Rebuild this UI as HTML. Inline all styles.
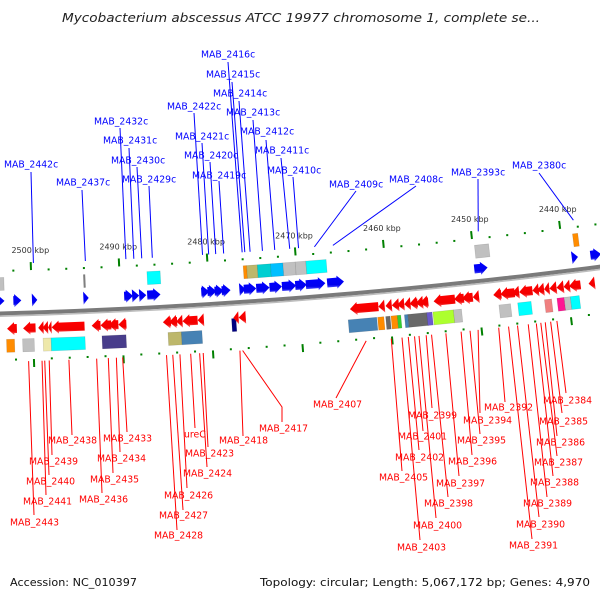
<!DOCTYPE html>
<html><head><meta charset="utf-8"><style>
html,body{margin:0;padding:0;background:#fff;}
svg{display:block;font-family:"DejaVu Sans","Liberation Sans",sans-serif;}
</style></head><body>
<svg id="map" width="600" height="600" viewBox="0 0 600 600" xmlns="http://www.w3.org/2000/svg">
<defs>
<linearGradient id="gb" x1="0" y1="0" x2="0" y2="1"><stop offset="0" stop-color="#0000ff"/><stop offset="0.7" stop-color="#0000ee"/><stop offset="1" stop-color="#6a6aff"/></linearGradient>
<linearGradient id="gr" x1="0" y1="0" x2="0" y2="1"><stop offset="0" stop-color="#ff0000"/><stop offset="0.7" stop-color="#f20000"/><stop offset="1" stop-color="#ff7070"/></linearGradient>
</defs>
<text x="62" y="22" font-size="12" font-style="italic" fill="#222" textLength="478" lengthAdjust="spacingAndGlyphs">Mycobacterium abscessus ATCC 19977 chromosome 1, complete se...</text>
<g id="g-back"></g><g id="g-ticks"></g><g id="g-genes"></g><g id="g-lines"></g><g id="g-labels"></g>
<text x="10" y="586" font-size="11" fill="#111" textLength="127" lengthAdjust="spacingAndGlyphs">Accession: NC_010397</text>
<text x="260" y="586" font-size="11" fill="#111" textLength="330" lengthAdjust="spacingAndGlyphs">Topology: circular; Length: 5,067,172 bp; Genes: 4,970</text>
</svg>
<script>
// ---- data (kbp) ----
const fwdGeneStart=[2503.9,2502.1,2500.0,2494.2,2489.6,2488.7,2487.9,2487.0,2480.9,2480.2,2479.4,2478.6,2476.6,2476.1,2474.7,2473.2,2471.8,2470.3,2469.1,2466.7,2450.1,2439.1,2437.0];
const fwdGeneEnd=[2503.1,2501.2,2499.4,2493.6,2488.6,2487.9,2487.1,2485.5,2480.0,2479.2,2478.4,2477.6,2475.9,2474.7,2473.2,2471.8,2470.2,2469.0,2466.9,2464.8,2448.6,2438.4,2435.8];
const revGeneStart=[2502.9,2501.1,2499.4,2498.9,2498.3,2497.9,2493.4,2492.4,2491.5,2490.4,2485.4,2484.7,2483.9,2483.2,2481.5,2477.5,2476.9,2464.4,2461.2,2460.4,2459.7,2459.1,2458.3,2457.7,2457.0,2456.5,2455.0,2452.7,2451.8,2450.6,2448.3,2447.5,2446.2,2445.4,2443.9,2443.4,2442.6,2442.0,2441.2,2440.4,2439.8,2437.6];
const revGeneEnd=[2501.8,2499.7,2498.8,2498.3,2497.9,2494.2,2492.4,2491.2,2490.4,2489.5,2484.5,2483.8,2483.2,2481.5,2480.8,2476.9,2476.1,2461.2,2460.5,2459.7,2458.9,2458.3,2457.6,2456.8,2456.2,2455.6,2452.6,2451.6,2450.6,2449.9,2447.4,2445.9,2445.4,2443.9,2443.2,2442.6,2442.0,2441.2,2440.4,2439.7,2438.5,2436.9];
const fwdCogStart=[2503.9,2494.1,2486.9,2476.0,2475.6,2474.4,2472.9,2471.5,2470.1,2468.9,2449.8,2438.7];
const fwdCogEnd=[2503.1,2493.9,2485.4,2475.6,2474.4,2472.9,2471.5,2470.1,2468.9,2466.6,2448.2,2438.1];
const fwdCogColor=["#c0c0c0","#808080","#00ffff","#ff8c00","#bdb76b","#00ced1","#00bfff","#c0c0c0","#c0c0c0","#00ffff","#c0c0c0","#ff8c00"];
const revCogStart=[2503.0,2501.2,2498.9,2498.0,2492.3,2484.9,2483.4,2464.7,2461.4,2460.5,2459.9,2459.2,2458.4,2458.0,2455.9,2455.2,2452.9,2447.8,2445.7,2442.7,2441.3,2440.5,2439.8];
const revCogEnd=[2502.1,2499.9,2498.0,2494.2,2489.6,2483.4,2481.1,2461.5,2460.7,2460.0,2459.2,2458.8,2458.0,2455.8,2455.3,2452.9,2452.0,2446.5,2444.2,2441.9,2440.5,2439.8,2438.8];
const revCogColor=["#ff8c00","#c0c0c0","#eee8aa","#00ffff","#483d8b","#bdb76b","#4682b4","#4682b4","#ff8c00","#696969","#ff8c00","#32cd32","#4682b4","#696969","#6a5acd","#adff2f","#c0c0c0","#c0c0c0","#00ffff","#f08080","#ff1493","#c0c0c0","#00ffff"];
const navyGene=[2477.7,2477.2];
const tickStart=2504, tickEnd=2434;
const majorTicks=[2500,2490,2480,2470,2460,2450,2440];
const tickLabels=["2500 kbp","2490 kbp","2480 kbp","2470 kbp","2460 kbp","2450 kbp","2440 kbp"];
const blueNames=["MAB_2442c","MAB_2437c","MAB_2432c","MAB_2431c","MAB_2430c","MAB_2429c","MAB_2422c","MAB_2421c","MAB_2420c","MAB_2419c","MAB_2416c","MAB_2415c","MAB_2414c","MAB_2413c","MAB_2412c","MAB_2411c","MAB_2410c","MAB_2409c","MAB_2408c","MAB_2393c","MAB_2380c"];
const bluePos=[2499.7,2493.8,2489.2,2488.3,2487.4,2486.2,2480.5,2479.8,2479.0,2478.1,2476.0,2475.7,2475.1,2473.7,2472.3,2470.6,2469.6,2467.8,2465.7,2449.2,2438.4];
const redNames=["MAB_2443","MAB_2441","MAB_2440","MAB_2439","MAB_2438","MAB_2436","MAB_2435","MAB_2434","MAB_2433","MAB_2428","MAB_2427","MAB_2426","ureC","MAB_2424","MAB_2423","MAB_2418","MAB_2417","MAB_2407","MAB_2405","MAB_2403","MAB_2402","MAB_2401","MAB_2400","MAB_2399","MAB_2398","MAB_2397","MAB_2396","MAB_2395","MAB_2394","MAB_2392","MAB_2391","MAB_2390","MAB_2389","MAB_2388","MAB_2387","MAB_2386","MAB_2385","MAB_2384"];
const redPos=[2500.6,2499.1,2498.8,2498.3,2496.1,2493.0,2491.7,2490.8,2490.1,2485.2,2484.5,2483.7,2482.5,2481.5,2481.1,2477.0,2476.7,2462.9,2460.1,2458.9,2458.2,2457.5,2457.0,2456.2,2455.6,2454.0,2452.3,2451.3,2450.4,2448.1,2447.0,2446.0,2444.8,2443.9,2443.4,2442.9,2442.3,2441.6];
// ---- label layout (pixels) ----
const blueLay=[[4,164,31,172],[56,182,82,190],[94,121,120,128],[103,140,129,148],[111,160,137,167],[122,179,149,186],[167,106,194,113],[175,136,202,143],[184,155,210,162],[192,175,219,181],[201,54,228,62],[206,74,232,82],[213,93,239,101],[226,112,253,120],[240,131,266,140],[255,150,281,158],[267,170,293,177],[329,184,356,191],[389,179,416,186],[451,172,478,179],[512,165,539,173]];
const redLay=[[10,522,34,515],[23,501,46,495],[26,481,49,475],[29,461,52,455],[48,440,72,435],[79,499,102,493],[90,479,113,473],[97,458,120,452],[103,438,127,432],[154,535,177,530],[159,515,183,510],[164,495,187,488],[184,434,195,428],[183,473,207,467],[185,453,208,447],[219,440,243,436],[259,428,282,422],[313,404,336,398],[379,477,402,471],[397,547,420,540],[395,457,419,450],[398,436,423,431],[413,525,436,518],[408,415,432,408],[424,503,448,497],[436,483,459,476],[448,461,472,455],[457,440,480,434],[463,420,480,413],[484,407,505,402],[509,545,532,539],[516,524,539,517],[523,503,547,497],[530,482,553,476],[534,462,557,456],[536,442,557,436],[539,421,562,413],[543,400,566,393]];

const NS="http://www.w3.org/2000/svg";
const CX=-166, CY=-5683.7, R=6000;
function xs(p){return 32.4+(2500-p)*8.883;}
function P(p,r){const th=Math.asin((xs(p)-CX)/R);const rr=R-r;return [CX+rr*Math.sin(th),CY+rr*Math.cos(th)];}
function mk(tag,parent,attrs){const e=document.createElementNS(NS,tag);for(const k in attrs)e.setAttribute(k,attrs[k]);document.getElementById(parent).appendChild(e);return e;}
function pts(a){return a.map(q=>q[0].toFixed(2)+","+q[1].toFixed(2)).join(" ");}
function arcPath(p1,p2,r){let d="";for(let i=0;i<=40;i++){const p=p1+(p2-p1)*i/40;const q=P(p,r);d+=(i?"L":"M")+q[0].toFixed(2)+" "+q[1].toFixed(2);}return d;}

// backbone
let bb=mk("path","g-back",{d:arcPath(2506,2432,0.5),stroke:"#7a7a7a","stroke-width":"4",fill:"none"});


let bb2=mk("path","g-back",{d:arcPath(2506,2432,-2.2),stroke:"#bdbdbd","stroke-width":"1.6",fill:"none"});



// ticks
for(let p=tickStart;p>=tickEnd;p-=2){
  const major=majorTicks.indexOf(p)>=0;
  [[43,1],[-46,-1]].forEach(([r,s])=>{
    let e;
    if(major){const a=P(p,r),b=P(p,r+8*s);e=mk("line","g-ticks",{x1:a[0],y1:a[1],x2:b[0],y2:b[1],stroke:"#008000","stroke-width":"2"});}
    else{const a=P(p,r);e=mk("rect","g-ticks",{x:a[0]-1,y:a[1]-1,width:2,height:2,fill:"#008000"});}
    
    
  });
}
majorTicks.forEach((p,i)=>{const a=P(p,63);const t=mk("text","g-ticks",{x:a[0],y:a[1]+3,"font-size":"8","text-anchor":"middle",fill:"#333"});t.textContent=tickLabels[i];
  
  });

// COG boxes
function box(p1,p2,r,h,col){const q=[P(p1,r+h/2),P(p2,r+h/2),P(p2,r-h/2),P(p1,r-h/2)];return mk("polygon","g-genes",{points:pts(q),fill:col,stroke:"rgba(0,0,0,0.15)","stroke-width":"0.6"});}
fwdCogStart.forEach((s,i)=>{const e=box(s,fwdCogEnd[i],30,13,fwdCogColor[i]);
  
  });
revCogStart.forEach((s,i)=>{const e=box(s,revCogEnd[i],-32,13,revCogColor[i]);
  
  });
{const e=box(navyGene[0],navyGene[1],-22,13,"#000080");
  
  }

// arrows
function arrow(from,to,r,fwd,fill){const bh=4.5,hh=6.5;const len=from-to;const hk=Math.min(len,0.8);let q;
  if(fwd){q=[P(from,r+bh),P(to+hk,r+bh),P(to+hk,r+hh),P(to,r),P(to+hk,r-hh),P(to+hk,r-bh),P(from,r-bh)];}
  else{q=[P(to,r+bh),P(from-hk,r+bh),P(from-hk,r+hh),P(from,r),P(from-hk,r-hh),P(from-hk,r-bh),P(to,r-bh)];}
  return mk("polygon","g-genes",{points:pts(q),fill:fill});}
fwdGeneStart.forEach((s,i)=>{const e=arrow(s,fwdGeneEnd[i],13,true,"url(#gb)");
  
  });
revGeneStart.forEach((s,i)=>{const e=arrow(s,revGeneEnd[i],-15,false,"url(#gr)");
  
  });

// labels
blueNames.forEach((n,i)=>{const L=blueLay[i];const a=P(bluePos[i],50);
  const l=mk("line","g-lines",{x1:L[2],y1:L[3],x2:a[0],y2:a[1],stroke:"#0000ff","stroke-width":"1"});
  
  
  const t=mk("text","g-labels",{x:L[0],y:L[1]+3.5,"font-size":"9.3",fill:"#0000ff"});t.textContent=n;
  
  });
redNames.forEach((n,i)=>{const L=redLay[i];const a=P(redPos[i],-48);
  let l;
  if(n==="MAB_2417"){l=mk("polyline","g-lines",{points:pts([a,[282,407],[L[2],L[3]]]),fill:"none",stroke:"#ff0000","stroke-width":"1"});}
  else{l=mk("line","g-lines",{x1:a[0],y1:a[1],x2:L[2],y2:L[3],stroke:"#ff0000","stroke-width":"1"});}
  
  
  const t=mk("text","g-labels",{x:L[0],y:L[1]+3.5,"font-size":"9.3",fill:"#ff0000"});t.textContent=n;
  
  });
</script>
</body></html>
